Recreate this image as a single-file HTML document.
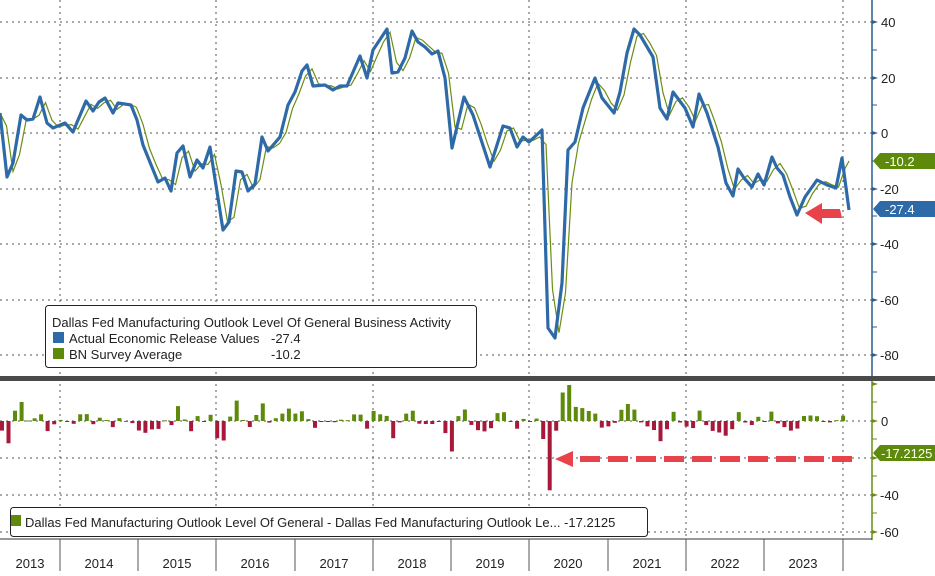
<!DOCTYPE html>
<html><head><meta charset="utf-8"><style>
html,body{margin:0;padding:0;background:#fff;}
body{width:935px;height:571px;overflow:hidden;font-family:"Liberation Sans",sans-serif;}
svg text{font-family:"Liberation Sans",sans-serif;}
</style></head><body>
<svg id="s" width="935" height="571" viewBox="0 0 935 571" xmlns="http://www.w3.org/2000/svg">
<rect width="935" height="571" fill="#fff"/>
<g stroke="#555" stroke-width="1" stroke-dasharray="2,4" fill="none">
<line x1="0" y1="22" x2="872" y2="22"/><line x1="0" y1="78" x2="872" y2="78"/><line x1="0" y1="133" x2="872" y2="133"/>
<line x1="0" y1="189" x2="872" y2="189"/><line x1="0" y1="244" x2="872" y2="244"/><line x1="0" y1="300" x2="872" y2="300"/><line x1="0" y1="355" x2="872" y2="355"/>
<line x1="0" y1="421" x2="872" y2="421"/><line x1="0" y1="458" x2="872" y2="458"/><line x1="0" y1="495" x2="872" y2="495"/><line x1="0" y1="532" x2="872" y2="532"/>
<line x1="60" y1="0" x2="60" y2="538"/><line x1="216" y1="0" x2="216" y2="538"/><line x1="373" y1="0" x2="373" y2="538"/>
<line x1="529" y1="0" x2="529" y2="538"/><line x1="686" y1="0" x2="686" y2="538"/><line x1="843" y1="0" x2="843" y2="538"/>
</g>
<g id="bars"></g>
<polyline id="g" fill="none" stroke="#6b8e12" stroke-width="1.2"/>
<polyline id="b" fill="none" stroke="#2e6aa8" stroke-width="3.2" stroke-linejoin="round"/>
<rect x="0" y="376" width="935" height="5" fill="#4a4a4a"/>
<line x1="872" y1="0" x2="872" y2="376" stroke="#2e5d8e" stroke-width="1.5"/>
<line x1="872" y1="381" x2="872" y2="540" stroke="#6b8e12" stroke-width="1.5"/>
<g stroke="#2e5d8e"><line x1="872" y1="50" x2="877" y2="50"/><line x1="872" y1="105" x2="877" y2="105"/><line x1="872" y1="161" x2="877" y2="161"/><line x1="872" y1="216" x2="877" y2="216"/><line x1="872" y1="272" x2="877" y2="272"/><line x1="872" y1="327" x2="877" y2="327"/></g>
<g stroke="#6b8e12"><line x1="872" y1="402" x2="877" y2="402"/><line x1="872" y1="439" x2="877" y2="439"/><line x1="872" y1="476" x2="877" y2="476"/><line x1="872" y1="513" x2="877" y2="513"/></g>
<g font-size="13" fill="#222">
<text x="881" y="27">40</text><text x="881" y="83">20</text><text x="881" y="138">0</text><text x="880" y="194">-20</text>
<text x="880" y="249">-40</text><text x="880" y="305">-60</text><text x="880" y="360">-80</text>
<text x="881" y="426">0</text><text x="880" y="500">-40</text><text x="880" y="537">-60</text>
</g>
<g fill="#2e5d8e"><polygon points="878,22 872,20 872,24"/><polygon points="878,78 872,76 872,80"/><polygon points="878,133 872,131 872,135"/><polygon points="878,189 872,187 872,191"/><polygon points="878,244 872,242 872,246"/><polygon points="878,300 872,298 872,302"/><polygon points="878,355 872,353 872,357"/></g>
<g fill="#6b8e12"><polygon points="878,384 872,382 872,386"/><polygon points="878,421 872,419 872,423"/><polygon points="878,458 872,456 872,460"/><polygon points="878,495 872,493 872,497"/><polygon points="878,532 872,530 872,534"/></g>
<polygon points="873,161 880,153 935,153 935,169 880,169" fill="#5e8a0c"/>
<text x="885" y="166" font-size="13" fill="#fff">-10.2</text>
<polygon points="873,209 880,201 935,201 935,217 880,217" fill="#2e6aa8"/>
<text x="885" y="214" font-size="13" fill="#fff">-27.4</text>
<polygon points="873,453 880,445 935,445 935,461 880,461" fill="#5e8a0c"/>
<text x="881" y="458" font-size="13" fill="#fff">-17.2125</text>
<line x1="0" y1="539" x2="872" y2="539" stroke="#333"/>
<g stroke="#555"><line x1="60" y1="539" x2="60" y2="571"/><line x1="138" y1="539" x2="138" y2="571"/><line x1="216" y1="539" x2="216" y2="571"/><line x1="295" y1="539" x2="295" y2="571"/><line x1="373" y1="539" x2="373" y2="571"/><line x1="451" y1="539" x2="451" y2="571"/><line x1="529" y1="539" x2="529" y2="571"/><line x1="608" y1="539" x2="608" y2="571"/><line x1="686" y1="539" x2="686" y2="571"/><line x1="764" y1="539" x2="764" y2="571"/><line x1="843" y1="539" x2="843" y2="571"/></g>
<g font-size="13" fill="#222" text-anchor="middle">
<text x="30" y="568">2013</text><text x="99" y="568">2014</text><text x="177" y="568">2015</text><text x="255" y="568">2016</text><text x="334" y="568">2017</text><text x="412" y="568">2018</text><text x="490" y="568">2019</text><text x="568" y="568">2020</text><text x="647" y="568">2021</text><text x="725" y="568">2022</text><text x="803" y="568">2023</text>
</g>
<rect x="45.5" y="305.5" width="431" height="62" rx="3" fill="#fff" stroke="#222"/>
<g font-size="13" fill="#222">
<text x="52" y="327">Dallas Fed Manufacturing Outlook Level Of General Business Activity</text>
<rect x="53" y="332" width="11" height="11" fill="#2e6aa8"/><text x="69" y="343">Actual Economic Release Values</text><text x="271" y="343">-27.4</text>
<rect x="53" y="348" width="11" height="11" fill="#5e8a0c"/><text x="69" y="359">BN Survey Average</text><text x="271" y="359">-10.2</text>
</g>
<rect x="10.5" y="507.5" width="637" height="29" rx="3" fill="#fff" stroke="#222"/>
<rect x="11" y="515" width="10" height="11" fill="#5e8a0c"/>
<text x="25" y="527" font-size="13" fill="#222">Dallas Fed Manufacturing Outlook Level Of General - Dallas Fed Manufacturing Outlook Le...  -17.2125</text>
<g fill="#e8434a">
<polygon points="805,213 822,203 822,209 840,209 842,218 822,218 822,224"/>
<polygon points="555,459 573,451 573,467"/>
</g>
<line x1="580" y1="459" x2="852" y2="459" stroke="#e8434a" stroke-width="6" stroke-dasharray="20,8"/>
</svg>
<script>
var B=[[0,113],[7,177],[13,163],[21,115],[27,120],[33,119],[40,97],[47,123],[53,128],[65,123],[73,132],[86,101],[93,111],[99,102],[105,98],[113,113],[118,103],[131,105],[137,120],[143,145],[158,182],[165,178],[171,191],[177,153],[183,146],[190,177],[197,160],[203,168],[210,147],[223,230],[229,222],[236,171],[242,172],[248,191],[255,184],[262,137],[268,151],[280,137],[288,105],[295,92],[302,71],[307,65],[313,86],[325,85],[333,90],[340,86],[347,86],[360,56],[367,78],[373,50],[387,29],[392,73],[398,72],[405,58],[412,31],[418,42],[425,47],[432,54],[438,51],[445,78],[452,148],[464,97],[473,115],[490,167],[503,126],[510,128],[517,147],[523,137],[529,142],[542,130],[548,328],[555,338],[562,283],[568,150],[575,142],[583,108],[595,78],[602,98],[614,113],[620,92],[627,53],[634,29],[640,35],[653,57],[660,108],[667,119],[673,92],[685,108],[693,127],[699,94],[707,113],[718,147],[726,183],[733,196],[738,169],[744,178],[752,187],[758,174],[764,185],[772,157],[777,168],[783,175],[790,197],[797,215],[805,197],[817,180],[827,185],[836,188],[842,158],[849,210]];
function interp(P,x){if(x<=P[0][0])return P[0][1];for(var i=1;i<P.length;i++){if(P[i][0]>=x){var a=P[i-1],b=P[i];return a[1]+(b[1]-a[1])*(x-a[0])/(b[0]-a[0]);}}return P[P.length-1][1];}
var G=[];for(var x=0;x<=849;x+=6.5){var y=(interp(B,x-6.5)*0.6+interp(B,x-3)*0.4);G.push([x,y]);}
G.push([849,161]);
document.getElementById('b').setAttribute('points',B.map(function(p){return p.join(',')}).join(' '));
document.getElementById('g').setAttribute('points',G.map(function(p){return p[0].toFixed(1)+','+p[1].toFixed(1)}).join(' '));
var s='';for(var x=2;x<=849;x+=6.52){var d=(interp(G,x)-interp(B,x))/2.775;if(x>846)d=-17.2;var h=d*1.85;var y0=421;
if(h>=0){h=Math.min(h,36);s+='<rect x="'+(x-2).toFixed(1)+'" y="'+(y0-h).toFixed(1)+'" width="4" height="'+Math.max(h,1).toFixed(1)+'" fill="#5e8a0c"/>';}
else{h=Math.min(-h,120);s+='<rect x="'+(x-2).toFixed(1)+'" y="'+y0+'" width="4" height="'+Math.max(h,1).toFixed(1)+'" fill="#a8183a"/>';}}
document.getElementById('bars').innerHTML=s;
</script>
</body></html>
